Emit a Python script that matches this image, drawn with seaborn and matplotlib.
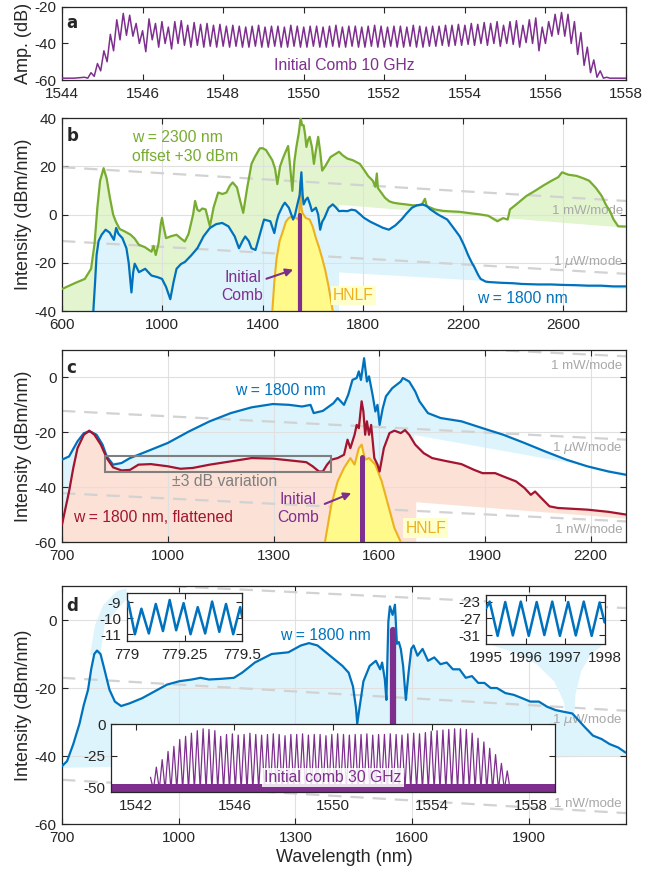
import numpy as np
import matplotlib
matplotlib.use("Agg")
import matplotlib.pyplot as plt
import seaborn as sns
from matplotlib.patches import Rectangle

BLUE = "#0072BD"
GREEN = "#77AC30"
RED = "#A2142F"
PURPLE = "#7E2F8E"
ORANGE = "#EDB120"
HNLF_FILL = "#FFFA8A"
FILL_BLUE = "#DDF4FC"
FILL_GREEN = "#E2F5CF"
FILL_PEACH = "#FCE1D6"
GREY_TXT = "#A8A8A8"
DASH = "#D2D2D2"

# ---------------- panel a: 10 GHz comb ----------------
comb_a_start, comb_a_step = 1544.56, 0.16
comb_a_top = [-58.5, -56, -51, -44, -35, -27, -23.5, -24.5, -29, -33,
              -26.5, -29, -28, -31, -28, -27.5, -30, -28.5, -29.5, -29,
              -30, -29.5, -30.5, -30, -30.5, -31, -30.5, -30, -31, -30.5,
              -30.5, -31, -30, -30.5, -31, -30.5, -30.5, -31, -30.5, -30,
              -31, -30.5, -30.5, -31, -30.5, -30, -30.5, -31, -30.5, -30.5,
              -31, -30, -30.5, -31, -30.5, -30.5, -30, -30, -29.5, -30,
              -29, -29.5, -28.5, -29, -28, -30, -28, -27.5, -30, -27,
              -26, -31, -28, -24, -23, -24, -28, -34, -42, -49,
              -55, -58.5]
comb_a_bot = [-59, -58, -55, -50, -44, -38, -35.5, -36, -40, -44.5,
              -38, -42, -40, -43, -40, -41, -42, -41, -42, -41.5,
              -42, -41.5, -42, -41.5, -42, -42, -41.5, -42, -42, -41.5,
              -42, -42, -41.5, -42, -42, -41.5, -42, -42, -41.5, -42,
              -42, -41.5, -42, -42, -41.5, -42, -42, -41.5, -42, -42,
              -41.5, -42, -42, -41.5, -41.5, -41, -41.5, -41, -41, -40.5,
              -41, -40, -41, -40, -41.5, -40, -40.5, -42, -39.5, -40,
              -44, -40, -36, -35, -36, -40, -46, -52, -56, -58.5,
              -59, -59]
floor_a_left = ([1544.0, 1544.3], [-59, -59])
floor_a_right = ([1557.75, 1558.0], [-59, -59])

# ---------------- panel b ----------------
green_b = [(600, -30.9), (650, -28.5), (691, -26.7), (716, -22.5), (730, -12), (741, 2.8), (752, 14),
           (766, 19.2), (778, 15), (791, 7), (804, 0), (815, -3), (830, -6), (850, -7), (874, -8.4),
           (890, -10), (907, -12.6), (930, -13.5), (957, -15.4), (965, -13), (974, -16.8), (985, -12),
           (994, -4), (999, -1.4), (1005, -5), (1015, -9.8), (1035, -9), (1057, -8.4), (1075, -10),
           (1090, -11.2), (1105, -8), (1123, 0), (1131, 5.6), (1140, 2), (1148, 1.4), (1160, 2.5),
           (1173, 2.1), (1190, -4.9), (1205, 3), (1223, 9.1), (1240, 8.5), (1256, 9.1), (1270, 12),
           (1281, 13.3), (1298, 11.2), (1310, 6), (1323, 0.7), (1339, 11.2), (1356, 21), (1370, 24),
           (1389, 27.4), (1400, 27.5), (1414, 26.7), (1439, 22.5), (1450, 19), (1459, 12.6), (1470, 20),
           (1481, 23.2), (1492, 26), (1502, 28.4), (1510, 20), (1519, 9.8), (1527, 22), (1535, 28),
           (1545, 34), (1552, 40), (1558, 37), (1564, 37), (1570, 33), (1575, 28), (1582, 31),
           (1588, 32.2), (1597, 28), (1605, 21), (1612, 26), (1622, 32.2), (1630, 26), (1638, 18.2),
           (1650, 20), (1671, 23.8), (1690, 25), (1705, 26), (1720, 24.5), (1738, 23.2), (1760, 22.5),
           (1788, 21), (1805, 18.5), (1821, 16), (1840, 14), (1850, 11.5), (1856, 17), (1860, 11),
           (1888, 7), (1905, 5.5), (1921, 4.9), (1945, 4.5), (1971, 4.2), (2000, 3.8), (2020, 3.8),
           (2035, 4), (2048, 6.5), (2055, 3.5), (2087, 2.1), (2120, 1.5), (2150, 1.3), (2187, 1.1),
           (2230, 0.5), (2270, 0), (2300, -0.5), (2337, -2.8), (2360, -1.5), (2378, -2.1), (2387, 2.1),
           (2410, 4), (2453, 7.7), (2490, 10), (2520, 12), (2553, 14), (2580, 15.5), (2595, 17.5),
           (2620, 16.5), (2653, 16), (2680, 15), (2703, 14), (2730, 11), (2753, 7.7), (2770, 4),
           (2786, 1.4), (2800, -2), (2819, -4.9), (2850, -5)]
blue_b = [(725, -40), (732, -28), (738, -16.8), (746, -11), (758, -8.4), (774, -6.3), (790, -7.5),
          (799, -9.1), (807, -10.5), (816, -5.6), (825, -8), (841, -9.8), (857, -14), (866, -20),
          (877, -32.3), (884, -24), (890, -20.4), (898, -22), (907, -23.9), (932, -22.5), (945, -24),
          (957, -25.3), (982, -26), (999, -26.7), (1015, -30), (1032, -35.1), (1045, -28), (1057, -22.5),
          (1075, -20.5), (1090, -19.7), (1115, -17), (1140, -14), (1165, -9), (1190, -5.6), (1215, -4),
          (1239, -3.5), (1264, -4.9), (1289, -9.1), (1306, -14), (1320, -11), (1331, -9.1), (1345, -11),
          (1356, -14), (1372, -14.7), (1390, -8), (1406, -2.1), (1431, -2.8), (1447, -7.7), (1456, -3),
          (1464, 0), (1480, 3.5), (1489, 4.9), (1505, 2.8), (1522, -2.1), (1530, 0), (1539, 4.2),
          (1548, 8), (1555, 17.5), (1560, 8), (1564, 4.2), (1572, 6), (1580, 7), (1590, 4), (1597, 1.4),
          (1613, 2.8), (1622, 0), (1630, -6.3), (1638, -3), (1647, -1.4), (1664, 2.8), (1680, 4.2),
          (1692, 3), (1705, 1.4), (1720, 1.5), (1738, 1.4), (1755, 2), (1771, 1.7), (1790, 0),
          (1805, -1.4), (1830, -3), (1854, -4.2), (1880, -5.5), (1904, -6.3), (1930, -4.5), (1954, -2.1),
          (1975, 0.5), (1996, 2.8), (2015, 3.8), (2037, 4.2), (2055, 3.5), (2070, 2.1), (2100, 0),
          (2137, -2.1), (2165, -6), (2187, -9.1), (2205, -13), (2220, -16.8), (2235, -20), (2245, -21.8),
          (2260, -25), (2270, -26.7), (2290, -27.8), (2303, -28), (2350, -28.3), (2400, -28.5),
          (2436, -28.8), (2500, -29), (2550, -29), (2602, -29.2), (2650, -29.3), (2700, -29.5),
          (2750, -29.5), (2800, -29.8), (2850, -29.8)]
hnlf_b = [(1439, -40), (1447, -28), (1456, -18.2), (1468, -11), (1481, -7), (1493, -3), (1505, -1.4),
          (1522, -0.7), (1535, -1.5), (1543, -2), (1547, 1.4), (1550, 12), (1552, 14), (1555, 3),
          (1559, 0.7), (1572, -1.4), (1588, -2.1), (1600, -5), (1613, -9.8), (1625, -13.5),
          (1638, -18.2), (1650, -23), (1663, -29.5), (1672, -35), (1680, -40)]
comb_b = ([1550, 1550], [-40, 0])
green_b_base = ([2850, 1705, 1705, 600], [-5.5, 4, -40, -40])
blue_b_base = ([2850, 1705, 1705, 725], [-31, -24, -40, -40])
mw_b = ([600, 2850], [19.6, 5.6])
uw_b = ([600, 2850], [-11, -24.6])

# ---------------- panel c ----------------
blue_c = [(700, -30), (720, -28.8), (744, -23.3), (762, -20.3), (780, -19.7), (798, -20.9), (815, -24.5),
          (827, -28.8), (845, -31.8), (869, -31.2), (893, -29.4), (940, -27), (1000, -23.9), (1060, -19.7),
          (1119, -16), (1179, -13), (1238, -10.9), (1298, -9.7), (1345, -10), (1381, -10.6), (1405, -10),
          (1414, -13), (1440, -12.2), (1470, -9.4), (1482, -7.5), (1500, -10), (1512, -6.3), (1524, -0.9),
          (1536, -0.2), (1542, 2.2), (1548, -0.9), (1557, 7), (1565, -1.5), (1571, 0.4), (1581, -6.3),
          (1589, -12.4), (1595, -10), (1601, -17.3), (1610, -11.2), (1619, -6.9), (1637, -3.9),
          (1661, -1.5), (1667, -0.2), (1685, -1.5), (1702, -5.1), (1714, -8.7), (1738, -13), (1774, -14.8),
          (1833, -16), (1893, -18.5), (1952, -20.9), (2012, -23.9), (2071, -27), (2131, -30),
          (2190, -32.4), (2250, -34.3), (2300, -35.5)]
red_c = [(700, -53.7), (708, -48.8), (720, -41.6), (732, -33), (744, -25.8), (762, -20.9), (777, -19.4),
         (792, -20.9), (810, -24.5), (827, -29.4), (845, -32.8), (869, -33.9), (893, -33.7), (917, -31.8),
         (952, -31.6), (1000, -32.4), (1036, -33.3), (1071, -33), (1119, -31.8), (1179, -30.6),
         (1238, -29.4), (1298, -29.6), (1357, -30.4), (1393, -30.9), (1411, -32.4), (1429, -34.3),
         (1440, -34.3), (1452, -31.8), (1464, -30), (1482, -29.4), (1500, -28.2), (1510, -22.7),
         (1518, -25.8), (1530, -20.9), (1536, -17.3), (1542, -18.5), (1550, -8.7), (1555, -12.4),
         (1560, -20.9), (1565, -16), (1571, -20.9), (1577, -17.3), (1586, -29.4), (1595, -31.8),
         (1601, -34.3), (1613, -25.8), (1629, -20.3), (1643, -19.4), (1661, -20.3), (1673, -19.2),
         (1685, -20.9), (1702, -24.5), (1726, -27.6), (1750, -29.4), (1786, -30.4), (1833, -31.6),
         (1869, -33.7), (1893, -34.9), (1929, -34.9), (1952, -36.1), (1988, -37.9), (2012, -40.3),
         (2030, -42.8), (2042, -41.6), (2060, -44), (2083, -47), (2107, -47.6), (2190, -48.2),
         (2250, -49), (2300, -50)]
hnlf_c = [(1446, -60), (1464, -46.4), (1482, -37.9), (1500, -33), (1518, -29.4), (1530, -31.8),
          (1542, -25.8), (1550, -24.5), (1560, -30), (1571, -29.4), (1589, -31.8), (1607, -37.9),
          (1625, -46.4), (1643, -54.9), (1661, -60)]
comb_c = ([1551, 1551], [-60, -29])
blue_c_base = ([2300, 1700, 1700, 700], [-34.8, -21, -60, -60])
red_c_base = ([2300, 1705, 1705, 700], [-51.5, -45.5, -60, -60])
mw_c = ([700, 2300], [17.5, 7.7])
uw_c = ([700, 2300], [-12.2, -22.7])
nw_c = ([700, 2300], [-42.2, -52.5])
flat_box = (821, -34.6, 641, 6.0)

# ---------------- panel d ----------------
blue_d = [(700, -43), (713, -41.5), (729, -36.5), (745, -30.5), (756, -25), (767, -20.5), (775, -14.5),
          (783, -10), (790, -9), (799, -10), (809, -14.5), (822, -20.5), (836, -24), (852, -25.3),
          (874, -24.5), (906, -23), (938, -21), (970, -19), (1002, -18), (1034, -17.5), (1056, -17),
          (1078, -17.5), (1110, -17.3), (1142, -17), (1163, -15.5), (1196, -12.5), (1239, -10),
          (1282, -9.5), (1314, -7.5), (1335, -6.8), (1357, -7.5), (1389, -10.5), (1421, -13.5),
          (1437, -15.5), (1448, -19.5), (1456, -26), (1459, -30.5), (1464, -26.5), (1475, -18),
          (1491, -13.5), (1507, -12), (1518, -14.5), (1523, -12.5), (1530, -17.5), (1534, -23.5),
          (1539, -0.5), (1543, 4), (1550, 1.5), (1556, 4.5), (1561, -7), (1566, -6.5), (1571, -8.5),
          (1577, -13.5), (1584, -23.5), (1591, -15.5), (1598, -8.5), (1604, -7.5), (1614, -10.5),
          (1627, -8.5), (1641, -12), (1657, -11), (1673, -13), (1689, -12.5), (1705, -14.5),
          (1722, -14.5), (1738, -17), (1754, -16.5), (1770, -18.5), (1786, -18.5), (1802, -20),
          (1818, -20), (1840, -21.5), (1861, -22), (1883, -23), (1904, -24), (1926, -24), (1947, -25.5),
          (1969, -26.5), (1990, -27), (2012, -27.5), (2028, -29.5), (2044, -31.5), (2065, -34),
          (2087, -35), (2108, -36.5), (2130, -37.5), (2149, -39)]
comb_d = ([1550, 1550], [-31, -3])
blue_d_base = ([2150, 700], [-40, -43.5])
zoom_left = ([772, 785, 806, 841, 866, 866, 841, 810, 798],
             [-10.3, -1.5, 4.4, 8.5, 9.3, 6, 3, -1.5, -10.3])
zoom_right = ([1791, 1850, 1920, 1965, 1990, 1996, 2017, 2020, 2035, 2060, 2095],
              [-7, -9, -13, -18, -24, -28.5, -28.5, -22, -15, -10, -7])
mw_d = ([700, 2150], [11.5, 3.5])
uw_d = ([700, 2150], [-17, -26.7])
nw_d = ([700, 2150], [-47, -56.8])

# inset near 779 nm
osc1_x = [779.0, 779.007, 779.036, 779.064, 779.096, 779.126, 779.157, 779.186, 779.214, 779.246,
          779.276, 779.307, 779.339, 779.369, 779.4, 779.429, 779.46, 779.49, 779.5]
osc1_y = [-9.3, -8.95, -11.0, -9.4, -10.95, -9.1, -10.8, -8.85, -10.75, -9.05,
          -11.0, -9.3, -10.95, -8.95, -10.85, -9.1, -11.0, -9.3, -10.0]
# inset near 1996 nm
osc2_x = [1995.0, 1995.084, 1995.286, 1995.479, 1995.672, 1995.874, 1996.076, 1996.277, 1996.471,
          1996.672, 1996.866, 1997.076, 1997.269, 1997.471, 1997.672, 1997.874, 1998.0]
osc2_y = [-24.5, -23.0, -31.2, -23.1, -31.1, -23.0, -31.2, -23.1, -31.0, -23.0, -31.2, -23.1,
          -31.1, -23.0, -31.2, -23.2, -28.0]
# 30 GHz comb inset
comb_d_start, comb_d_step = 1542.6, 0.237
comb_d_top = [-42, -34, -28, -21.5, -17.5, -12, -9.5, -7, -5, -3.5, -4, -5, -9.5,
              -8, -7.5, -8.5, -8, -7, -8, -8.5, -8, -7.5, -8, -9, -8, -8, -7.5, -8.5, -8,
              -8, -9, -8, -7.5, -8, -8.5, -8, -8, -7.5, -8.5, -8, -8, -7.5, -8, -8.5, -7.5, -7, -7.5,
              -6.5, -5.5, -5, -4.5, -4, -3.5, -3.5, -4, -7, -11, -14, -19, -24, -31, -37]
comb_d_floor = -52
noise_band = ([1541, 1559], [-53.5, -47])


def pts(seq):
    a = np.array(seq, dtype=float)
    return a[:, 0], a[:, 1]


def line(ax, x, y, color, lw=1.5, z=3):
    sns.lineplot(x=x, y=y, ax=ax, color=color, lw=lw, estimator=None, sort=False, zorder=z)


def area(ax, x, y, bx, by, color, z=0.3):
    ax.fill(np.r_[x, bx], np.r_[y, by], color=color, lw=0, zorder=z)


def dashes(ax, seg):
    ax.plot(seg[0], seg[1], color=DASH, lw=1.6, ls=(0, (6, 4)), zorder=2)


def style(ax, grid=True, size=11):
    ax.tick_params(direction="in", top=True, right=True, length=4, width=0.8,
                   labelsize=size, colors="#262626")
    ax.tick_params(axis="x", pad=5)
    ax.tick_params(axis="y", pad=4)
    for s in ax.spines.values():
        s.set_linewidth(0.9)
        s.set_color("#262626")
    if grid:
        ax.grid(True, color="#E0E0E0", lw=0.8)
        ax.set_axisbelow(True)


def mode_label(ax, x, y, txt):
    ax.text(x, y, txt, color=GREY_TXT, fontsize=9.5, ha="right", va="center", zorder=2)


sns.set_style("ticks")
plt.rcParams["font.family"] = ["Liberation Sans", "DejaVu Sans"]
plt.rcParams["mathtext.fontset"] = "dejavusans"
plt.rcParams["axes.unicode_minus"] = False

W, H = 655, 871
fig = plt.figure(figsize=(W / 100, H / 100), dpi=100)


def axes_px(left, top, right, bottom):
    return fig.add_axes([left / W, 1 - bottom / H, (right - left) / W, (bottom - top) / H])


lab = dict(fontsize=13, color="#262626")
TXT = 11.3

# ---- a ----
axa = axes_px(62, 7, 626, 80)
teeth = comb_a_start + comb_a_step * np.arange(len(comb_a_top))
xa = np.empty(2 * len(teeth))
ya = np.empty(2 * len(teeth))
xa[0::2], xa[1::2] = teeth, teeth + comb_a_step / 2
ya[0::2], ya[1::2] = comb_a_top, comb_a_bot
xa = np.r_[floor_a_left[0], xa, floor_a_right[0]]
ya = np.r_[floor_a_left[1], ya, floor_a_right[1]]
line(axa, xa, ya, PURPLE, lw=1.1)
axa.set_xlim(1544, 1558)
axa.set_ylim(-60, -20)
axa.set_xticks(np.arange(1544, 1559, 2))
axa.set_yticks([-60, -40, -20])
axa.set_ylabel("Amp. (dB)", labelpad=2, **lab)
axa.text(1551, -52, "Initial Comb 10 GHz", color=PURPLE, fontsize=TXT, ha="center", va="center")
style(axa, grid=False)
axa.text(0.008, 0.9, "a", transform=axa.transAxes, fontsize=12, fontweight="bold",
         family="DejaVu Sans", va="top")

# ---- b ----
axb = axes_px(62, 118, 626, 311)
gx, gy = pts(green_b)
bx, by = pts(blue_b)
hx, hy = pts(hnlf_b)
area(axb, gx, gy, *green_b_base, FILL_GREEN)
area(axb, bx, by, *blue_b_base, FILL_BLUE, z=0.35)
dashes(axb, mw_b)
dashes(axb, uw_b)
axb.fill(hx, hy, color=HNLF_FILL, lw=0, zorder=2.5)
line(axb, hx, hy, ORANGE, lw=1.5, z=2.6)
line(axb, gx, gy, GREEN, lw=1.6)
line(axb, bx, by, BLUE, lw=1.6)
line(axb, *comb_b, PURPLE, lw=3.0, z=4)
mode_label(axb, 2840, 1.5, "1 mW/mode")
mode_label(axb, 2840, -19.5, r"1 $\mu$W/mode")
axb.text(880, 32, "w = 2300 nm", color=GREEN, fontsize=TXT, va="center")
axb.text(880, 24, "offset +30 dBm", color=GREEN, fontsize=TXT, va="center")
axb.text(1320, -30, "Initial\nComb", color=PURPLE, fontsize=TXT, ha="center", va="center",
         linespacing=1.25)
axb.annotate("", xy=(1533, -22.5), xytext=(1405, -27),
             arrowprops=dict(arrowstyle="-|>", color=PURPLE, lw=1.5, mutation_scale=11), zorder=5)
axb.text(1762, -33.5, "HNLF", color=ORANGE, fontsize=TXT, ha="center", va="center",
         bbox=dict(facecolor="#FFFFCC", edgecolor="none", pad=1.5), zorder=5)
axb.text(2436, -34.8, "w = 1800 nm", color=BLUE, fontsize=TXT, ha="center", va="center")
axb.set_xlim(600, 2850)
axb.set_ylim(-40, 40)
axb.set_xticks(np.arange(600, 2601, 400))
axb.set_yticks(np.arange(-40, 41, 20))
axb.set_ylabel("Intensity (dBm/nm)", labelpad=2, **lab)
style(axb)
axb.text(0.008, 0.955, "b", transform=axb.transAxes, fontsize=12, fontweight="bold",
         family="DejaVu Sans", va="top")

# ---- c ----
axc = axes_px(62, 350, 626, 542)
bx, by = pts(blue_c)
rx, ry = pts(red_c)
hx, hy = pts(hnlf_c)
area(axc, bx, by, *blue_c_base, FILL_BLUE)
area(axc, rx, ry, *red_c_base, FILL_PEACH, z=0.35)
dashes(axc, mw_c)
dashes(axc, uw_c)
dashes(axc, nw_c)
axc.fill(hx, hy, color=HNLF_FILL, lw=0, zorder=2.5)
line(axc, hx, hy, ORANGE, lw=1.5, z=2.6)
line(axc, bx, by, BLUE, lw=1.6)
line(axc, rx, ry, RED, lw=1.6)
line(axc, *comb_c, PURPLE, lw=3.6, z=4)
axc.add_patch(Rectangle(flat_box[:2], flat_box[2], flat_box[3], fill=False,
                        edgecolor="#7F7F7F", lw=1.5, zorder=3.5))
mode_label(axc, 2290, 4, "1 mW/mode")
mode_label(axc, 2290, -25.8, r"1 $\mu$W/mode")
mode_label(axc, 2290, -55.5, "1 nW/mode")
axc.text(1321, -4.9, "w = 1800 nm", color=BLUE, fontsize=TXT, ha="center", va="center")
axc.text(958, -51, "w = 1800 nm, flattened", color=RED, fontsize=TXT, ha="center", va="center")
axc.text(1161, -37.9, "\u00b13 dB variation", color="#7F7F7F", fontsize=TXT, ha="center",
         va="center")
axc.text(1369, -47.7, "Initial\nComb", color=PURPLE, fontsize=TXT, ha="center", va="center",
         linespacing=1.25)
axc.annotate("", xy=(1528, -41.8), xytext=(1438, -46.5),
             arrowprops=dict(arrowstyle="-|>", color=PURPLE, lw=1.5, mutation_scale=11), zorder=5)
axc.text(1732, -54.9, "HNLF", color=ORANGE, fontsize=TXT, ha="center", va="center",
         bbox=dict(facecolor="#FFFFCC", edgecolor="none", pad=1.5), zorder=5)
axc.set_xlim(700, 2300)
axc.set_ylim(-60, 10)
axc.set_xticks(np.arange(700, 2201, 300))
axc.set_yticks(np.arange(-60, 1, 20))
axc.set_ylabel("Intensity (dBm/nm)", labelpad=2, **lab)
style(axc)
axc.text(0.008, 0.955, "c", transform=axc.transAxes, fontsize=12, fontweight="bold",
         family="DejaVu Sans", va="top")

# ---- d ----
axd = axes_px(62, 586, 626, 824)
bx, by = pts(blue_d)
area(axd, bx, by, *blue_d_base, FILL_BLUE)
axd.fill(*zoom_left, color=FILL_BLUE, lw=0, zorder=0.3)
axd.fill(*zoom_right, color=FILL_BLUE, lw=0, zorder=2.2)
dashes(axd, mw_d)
dashes(axd, uw_d)
dashes(axd, nw_d)
line(axd, *comb_d, PURPLE, lw=4.5, z=2.8)
line(axd, bx, by, BLUE, lw=1.6)
mode_label(axd, 2140, -29.3, r"1 $\mu$W/mode")
mode_label(axd, 2140, -54, "1 nW/mode")
axd.text(1378, -4.5, "w = 1800 nm", color=BLUE, fontsize=TXT, ha="center", va="center")
axd.set_xlim(700, 2150)
axd.set_ylim(-60, 10)
axd.set_xticks(np.arange(700, 2000, 300))
axd.set_yticks(np.arange(-60, 1, 20))
axd.set_ylabel("Intensity (dBm/nm)", labelpad=2, **lab)
axd.set_xlabel("Wavelength (nm)", labelpad=3, **lab)
style(axd)
axd.text(0.008, 0.955, "d", transform=axd.transAxes, fontsize=12, fontweight="bold",
         family="DejaVu Sans", va="top")

ins1 = axd.inset_axes([866, -6.3, 298, 14.3], transform=axd.transData, zorder=6)
line(ins1, osc1_x, osc1_y, BLUE, lw=1.8)
ins1.set_xlim(779, 779.5)
ins1.set_ylim(-11.45, -8.4)
ins1.set_xticks([779, 779.25, 779.5])
ins1.set_xticklabels(["779", "779.25", "779.5"])
ins1.set_yticks([-11, -10, -9])
style(ins1, grid=False)
ins1.set_facecolor("white")

ins2 = axd.inset_axes([1791, -7, 304, 14.5], transform=axd.transData, zorder=6)
line(ins2, osc2_x, osc2_y, BLUE, lw=1.8)
ins2.set_xlim(1995, 1998)
ins2.set_ylim(-33.1, -21.3)
ins2.set_xticks([1995, 1996, 1997, 1998])
ins2.set_yticks([-31, -27, -23])
style(ins2, grid=False)
ins2.set_facecolor("white")

ins3 = axd.inset_axes([826, -50.5, 1142, 19.8], transform=axd.transData, zorder=6)
ct = comb_d_start + comb_d_step * np.arange(len(comb_d_top))
xc = np.empty(2 * len(ct))
yc = np.empty(2 * len(ct))
xc[0::2], xc[1::2] = ct, ct + comb_d_step / 2
yc[0::2], yc[1::2] = comb_d_top, comb_d_floor
ins3.fill_between(noise_band[0], noise_band[1][0], noise_band[1][1], color=PURPLE, lw=0)
line(ins3, xc, yc, PURPLE, lw=0.9)
ins3.set_xlim(1541, 1559)
ins3.set_ylim(-53.5, 0)
ins3.set_xticks([1542, 1546, 1550, 1554, 1558])
ins3.set_yticks([-50, -25, 0])
ins3.text(1550, -42, "Initial comb 30 GHz", color=PURPLE, fontsize=TXT, ha="center", va="center",
          bbox=dict(facecolor="white", edgecolor="none", alpha=0.85, pad=1.5), zorder=5)
style(ins3, grid=False)
ins3.set_facecolor("white")

fig.savefig("out.png", dpi=100)
